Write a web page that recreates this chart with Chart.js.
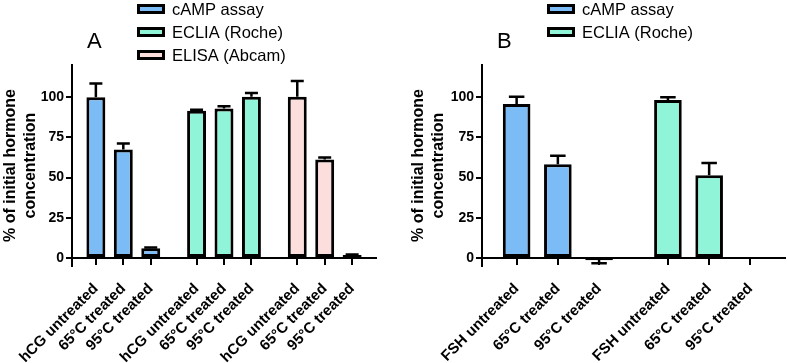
<!DOCTYPE html>
<html>
<head>
<meta charset="utf-8">
<style>
  html, body { margin: 0; padding: 0; background: #fff; }
  #wrap { position: relative; width: 787px; height: 363px; }
  #chartA { position: absolute; left: 0; top: 0; }
  #chartB { position: absolute; left: 400px; top: 0; }
</style>
</head>
<body>
<div id="wrap">
  <canvas id="chartA" width="400" height="363"></canvas>
  <canvas id="chartB" width="387" height="363"></canvas>
</div>
<script src="https://cdn.jsdelivr.net/npm/chart.js"></script>
<script>
// series names / colours
const seriesNames = ['cAMP assay', 'ECLIA (Roche)', 'ELISA (Abcam)'];
const seriesColors = ['#7bbcf7', '#8ff4d8', '#fcdedc'];

// panel A (hCG)
const labelsA = ['hCG untreated', '65°C treated', '95°C treated'];
const campA = [100, 67.5, 6];
const campAErr = [8.5, 3.7, 0.5];
const ecliaA = [91.6, 93, 100.3];
const ecliaAErr = [0.6, 1.3, 2.3];
const elisaA = [100.3, 61.3, 1.8];
const elisaAErr = [9.8, 1.1, 0.3];

// panel B (FSH)
const labelsB = ['FSH untreated', '65°C treated', '95°C treated'];
const campB = [95.8, 58.2, -1.5];
const campBErr = [4.5, 5.3, 1.8];
const ecliaB = [98.3, 51.5, 0.4];
const ecliaBErr = [1.7, 7.6, 0];

const yTicks = [0, 25, 50, 75, 100];
const yTitle = ['% of initial hormone', 'concentration'];

const FONT = '"Liberation Sans", Arial, Helvetica, sans-serif';
const GROUP_STEP = 3.67; // GraphPad puts a wider gap between groups

const errorBars = {
  id: 'errorBars',
  afterDatasetsDraw(chart, args, opts) {
    const ctx = chart.ctx, ys = chart.scales.y;
    ctx.save();
    ctx.strokeStyle = '#000';
    ctx.lineWidth = 2.5;
    chart.data.datasets.forEach((ds, i) => {
      chart.getDatasetMeta(i).data.forEach((bar, j) => {
        const v = ds.data[j].y, e = ds.errors[j];
        if (!e) return;
        const dir = v < 0 ? -1 : 1;
        const y0 = ys.getPixelForValue(v), y1 = ys.getPixelForValue(v + dir * e);
        ctx.beginPath();
        ctx.moveTo(bar.x, y0); ctx.lineTo(bar.x, y1);
        ctx.moveTo(bar.x - opts.cap, y1); ctx.lineTo(bar.x + opts.cap, y1);
        ctx.stroke();
      });
    });
    ctx.restore();
  }
};

const overlay = {
  id: 'overlay',
  afterDraw(chart, args, opts) {
    const ctx = chart.ctx;
    ctx.save();
    ctx.fillStyle = '#000';
    ctx.textBaseline = 'alphabetic';
    ctx.font = '22px ' + FONT;
    ctx.fillText(opts.letter, opts.letterX, 48);
    ctx.font = '16.5px ' + FONT;
    opts.names.forEach((n, i) => {
      const cy = 9 + i * 23;
      ctx.fillStyle = seriesColors[i];
      ctx.fillRect(opts.legendX + 1.5, cy - 3.5, 25, 7);
      ctx.strokeStyle = '#000';
      ctx.lineWidth = 3;
      ctx.strokeRect(opts.legendX + 1.5, cy - 3.5, 25, 7);
      ctx.fillStyle = '#000';
      ctx.fillText(n, opts.legendX + 35, cy + 6);
    });
    ctx.restore();
  }
};

function makePanel(id, groups, labels, cfg) {
  const positions = [];
  const tickLabels = [];
  const datasets = groups.map((g, gi) => {
    const data = g.values.map((v, i) => {
      const x = gi * GROUP_STEP + i;
      positions.push(x);
      tickLabels.push(labels[i]);
      return { x: x, y: v };
    });
    return {
      label: seriesNames[gi],
      data: data,
      errors: g.errors,
      backgroundColor: seriesColors[gi],
      borderColor: '#000',
      borderWidth: 3,
      borderSkipped: false,
      grouped: false,
      categoryPercentage: 1,
      barPercentage: cfg.barPct
    };
  });
  const last = positions[positions.length - 1];
  return new Chart(document.getElementById(id), {
    type: 'bar',
    data: { datasets: datasets },
    plugins: [errorBars, overlay],
    options: {
      responsive: false,
      animation: false,
      layout: { padding: { top: 65, bottom: 97, left: cfg.padLeft, right: cfg.padRight } },
      plugins: {
        legend: { display: false },
        tooltip: { enabled: false },
        errorBars: { cap: cfg.cap },
        overlay: { letter: cfg.letter, letterX: cfg.letterX, legendX: cfg.legendX, names: seriesNames.slice(0, groups.length) }
      },
      scales: {
        x: {
          type: 'linear',
          min: -cfg.edge,
          max: last + cfg.edge,
          offset: false,
          position: { y: 0 },
          afterBuildTicks: s => { s.ticks = positions.map(v => ({ value: v })); },
          grid: { offset: false, drawOnChartArea: false, drawTicks: true, tickLength: 6, tickColor: '#000', lineWidth: 2 },
          border: { display: true, color: '#000', width: 2 },
          ticks: {
            autoSkip: false, minRotation: 45, maxRotation: 45, padding: 16, color: '#000',
            font: { family: FONT, size: 15, weight: 'bold' },
            callback: (v, i) => tickLabels[i]
          }
        },
        y: {
          min: -5,
          max: 120,
          afterBuildTicks: s => { s.ticks = yTicks.map(v => ({ value: v })); },
          afterFit: s => { s.width = cfg.yWidth; },
          grid: { drawOnChartArea: false, drawTicks: true, tickLength: 6, tickColor: '#000', lineWidth: 2 },
          border: { display: true, color: '#000', width: 2 },
          ticks: { color: '#000', padding: 2, font: { family: FONT, size: 14, weight: 'bold' } },
          title: {
            display: true, text: yTitle, color: '#000', padding: { top: 1, bottom: 0 },
            font: { family: FONT, size: 16, weight: 'bold', lineHeight: 1.25 }
          }
        }
      }
    }
  });
}

makePanel('chartA', [
  { values: campA, errors: campAErr },
  { values: ecliaA, errors: ecliaAErr },
  { values: elisaA, errors: elisaAErr }
], labelsA, { barPct: 0.69, edge: 0.87, padLeft: 0, padRight: 24, yWidth: 72, cap: 6.5, letter: 'A', letterX: 87, legendX: 137 });

makePanel('chartB', [
  { values: campB, errors: campBErr },
  { values: ecliaB, errors: ecliaBErr }
], labelsB, { barPct: 0.67, edge: 0.84, padLeft: 8, padRight: 2, yWidth: 74, cap: 7.75, letter: 'B', letterX: 97, legendX: 147 });
</script>
</body>
</html>
